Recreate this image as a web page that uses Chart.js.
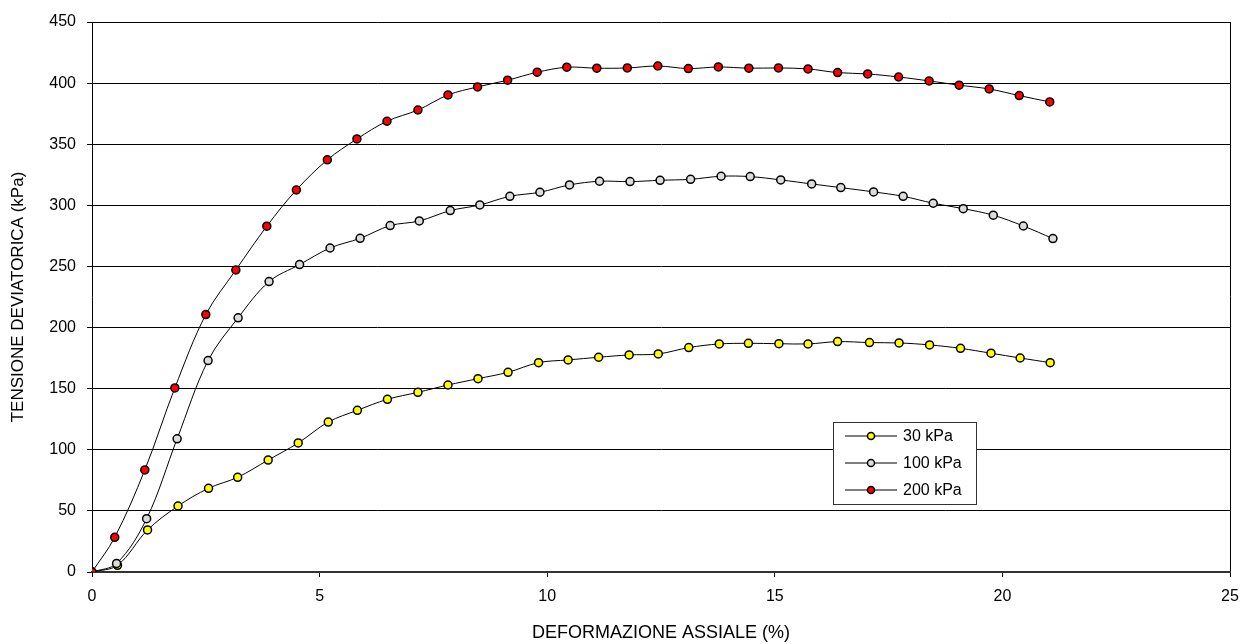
<!DOCTYPE html>
<html>
<head>
<meta charset="utf-8">
<script src="https://cdn.jsdelivr.net/npm/chart.js@4"></script>
<style>
  html, body { margin: 0; padding: 0; background: #fff; }
  #wrap { width: 1240px; height: 644px; }
</style>
</head>
<body>
<div id="wrap"><canvas id="prova"></canvas></div>
<script>
// deformazione assiale (%) e tensione deviatorica (kPa) per ogni confinamento
var strain30 = [0, 0.56, 1.22, 1.89, 2.56, 3.2, 3.87, 4.53, 5.19, 5.83, 6.49, 7.16, 7.82, 8.48, 9.14, 9.81, 10.46, 11.13, 11.8, 12.44, 13.11, 13.78, 14.42, 15.09, 15.73, 16.38, 17.08, 17.73, 18.4, 19.08, 19.75, 20.39, 21.05];
var q30 = [0, 5.5, 34.4, 54, 68.5, 77.5, 91.6, 105.6, 122.7, 132.3, 141.3, 147, 153, 158.2, 163.4, 171.3, 173.5, 175.7, 177.6, 178.4, 183.6, 186.6, 187.1, 186.8, 186.6, 188.5, 187.7, 187.4, 185.8, 183, 179, 175.1, 171.3];

var strain100 = [0, 0.54, 1.2, 1.87, 2.55, 3.21, 3.89, 4.56, 5.23, 5.89, 6.55, 7.19, 7.87, 8.52, 9.18, 9.84, 10.49, 11.15, 11.82, 12.48, 13.15, 13.82, 14.46, 15.13, 15.81, 16.45, 17.17, 17.82, 18.48, 19.14, 19.8, 20.46, 21.11];
var q100 = [0, 7, 43.6, 109, 173, 208, 237.6, 251.5, 265.1, 273, 283.4, 287.2, 295.7, 300.3, 307.4, 310.7, 316.7, 319.7, 319.4, 320.5, 321.3, 323.8, 323.5, 320.8, 317.5, 314.5, 311, 307.4, 301.7, 297.3, 291.9, 283.1, 272.8];

var strain200 = [0, 0.5, 1.16, 1.82, 2.5, 3.16, 3.84, 4.49, 5.17, 5.82, 6.48, 7.16, 7.82, 8.47, 9.13, 9.78, 10.43, 11.09, 11.76, 12.43, 13.1, 13.76, 14.43, 15.08, 15.73, 16.38, 17.04, 17.72, 18.39, 19.05, 19.71, 20.37, 21.04];
var q200 = [0, 28.4, 83.5, 150.6, 210.6, 247.1, 282.9, 312.6, 337.2, 354.3, 368.8, 378, 390.3, 396.9, 402.4, 408.9, 413, 412.2, 412.4, 414, 411.9, 413.2, 412.2, 412.4, 411.6, 408.6, 407.5, 405, 401.8, 398.3, 395.2, 389.8, 384.6];

var seriesLabels = ['30 kPa', '100 kPa', '200 kPa'];
var seriesColors = ['#ffff00', '#dcdcdc', '#ff0000'];

var FONT = 'Liberation Sans, Arial, sans-serif';

function toPoints(xs, ys) {
	return xs.map(function (x, i) { return { x: x, y: ys[i] }; });
}

function makeSet(i, xs, ys, order) {
	return {
		label: seriesLabels[i],
		data: toPoints(xs, ys),
		borderColor: '#000',
		borderWidth: 1,
		backgroundColor: seriesColors[i],
		pointBackgroundColor: seriesColors[i],
		pointBorderColor: '#000',
		pointBorderWidth: 1.5,
		pointRadius: 4,
		tension: 0.35,
		order: order
	};
}

// legenda disegnata dentro l'area del grafico
var legendBox = {
	id: 'legendBox',
	afterDraw: function (chart) {
		var ctx = chart.ctx;
		var x = 833, y = 422, w = 143, h = 82;
		ctx.save();
		ctx.fillStyle = '#fff';
		ctx.fillRect(x, y, w, h);
		ctx.strokeStyle = '#333';
		ctx.lineWidth = 1;
		ctx.strokeRect(x + 0.5, y + 0.5, w, h);
		ctx.font = '16px ' + FONT;
		ctx.textBaseline = 'middle';
		ctx.textAlign = 'left';
		for (var i = 0; i < seriesLabels.length; i++) {
			var cy = y + 14 + i * 27;
			ctx.strokeStyle = '#000';
			ctx.lineWidth = 1;
			ctx.beginPath();
			ctx.moveTo(x + 12, cy);
			ctx.lineTo(x + 64, cy);
			ctx.stroke();
			ctx.beginPath();
			ctx.arc(x + 38, cy, 3.5, 0, Math.PI * 2);
			ctx.fillStyle = seriesColors[i];
			ctx.fill();
			ctx.lineWidth = 1.5;
			ctx.stroke();
			ctx.fillStyle = '#000';
			ctx.fillText(seriesLabels[i], x + 70, cy + 1);
		}
		ctx.restore();
	}
};

var ctx = document.getElementById('prova').getContext('2d');

var chart = new Chart(ctx, {
	type: 'line',
	data: {
		datasets: [
			makeSet(0, strain30, q30, 2),
			makeSet(1, strain100, q100, 1),
			makeSet(2, strain200, q200, 0)
		]
	},
	options: {
		responsive: true,
		maintainAspectRatio: false,
		animation: false,
		layout: { padding: { top: 22, right: 10, bottom: 0, left: 0 } },
		plugins: {
			legend: { display: false },
			tooltip: { enabled: false }
		},
		scales: {
			x: {
				type: 'linear',
				min: 0,
				max: 25,
				ticks: {
					stepSize: 5,
					padding: 10,
					color: '#000',
					font: { size: 16, family: FONT }
				},
				grid: {
					drawOnChartArea: true,
					color: function (c) { return c.tick && c.tick.value === 25 ? '#000' : 'rgba(0,0,0,0)'; },
					tickColor: '#000',
					tickLength: 5
				},
				border: { display: true, color: '#333', width: 2 },
				title: {
					display: true,
					text: 'DEFORMAZIONE ASSIALE (%)',
					color: '#000',
					font: { size: 18, family: FONT, weight: 'normal' },
					padding: { top: 0, bottom: 0 }
				},
				afterFit: function (scale) {
					scale.height = 72;
					scale.paddingRight = 0; // il "25" sborda come nell'originale
				}
			},
			y: {
				type: 'linear',
				min: 0,
				max: 450,
				ticks: {
					stepSize: 50,
					padding: 11,
					color: '#000',
					font: { size: 16, family: FONT }
				},
				grid: {
					color: '#000',
					lineWidth: 1,
					tickColor: '#000',
					tickLength: 5
				},
				border: { display: true, color: '#000', width: 1 },
				title: {
					display: true,
					text: 'TENSIONE DEVIATORICA (kPa)',
					color: '#000',
					font: { size: 17, family: FONT, weight: 'normal' },
					padding: { top: 8, bottom: 0 }
				},
				afterFit: function (scale) { scale.width = 92; }
			}
		}
	},
	plugins: [legendBox]
});

function resizeChart() {
	chart.resize();
}

window.addEventListener('resize', resizeChart);
</script>
</body>
</html>
